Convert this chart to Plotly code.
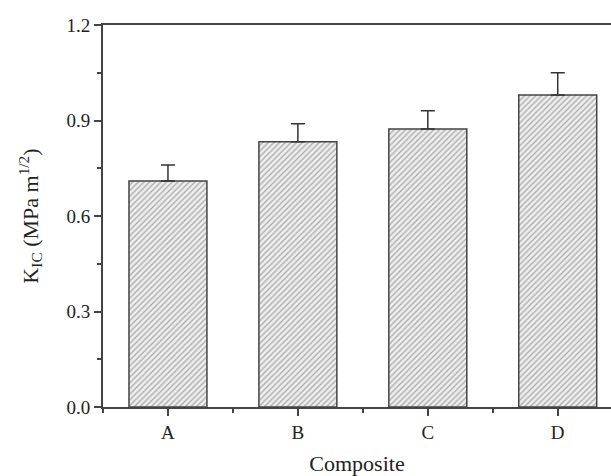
import plotly.graph_objects as go

categories = ["A", "B", "C", "D"]
kic = [0.71, 0.833, 0.873, 0.98]
err = [0.05, 0.057, 0.058, 0.07]

xpos = list(range(len(categories)))

fig = go.Figure()
fig.add_trace(go.Bar(
    x=xpos, y=kic, width=0.6,
    marker=dict(color="white",
                line=dict(color="#444444", width=1.5),
                pattern=dict(shape="/", fgcolor="#6a6a6a", bgcolor="#efefef",
                             size=4, solidity=0.35)),
    error_y=dict(type="data", symmetric=False, array=err,
                 arrayminus=[0]*len(err), color="#333333", thickness=1.5, width=7),
    showlegend=False,
))

font = "Liberation Serif, Times New Roman, serif"
fig.update_layout(
    width=611, height=476,
    margin=dict(l=103, r=0, t=25, b=69),
    plot_bgcolor="white", paper_bgcolor="white",
    font=dict(family=font, size=19, color="#222222"),
    bargap=0.4,
)
fig.update_xaxes(
    range=[-0.5, 3.41], tickvals=xpos, ticktext=categories,
    showgrid=False, zeroline=False,
    showline=True, linecolor="#444444", linewidth=2, mirror=True,
    ticks="outside", ticklen=7, tickwidth=1.5, tickcolor="#444444",
    minor=dict(tick0=0.5, dtick=1, ticks="outside", ticklen=4, tickwidth=1.5, tickcolor="#444444"),
    title=dict(text="Composite", font=dict(size=22, family=font), standoff=14),
    tickfont=dict(size=19, family=font),
)
fig.update_yaxes(
    range=[0, 1.2], tickvals=[0, 0.3, 0.6, 0.9, 1.2], tickformat=".1f",
    showgrid=False, zeroline=False,
    showline=True, linecolor="#444444", linewidth=2,
    ticks="outside", ticklen=7, tickwidth=1.5, tickcolor="#444444",
    minor=dict(tick0=0.15, dtick=0.3, ticks="outside", ticklen=4, tickwidth=1.5, tickcolor="#444444"),
    title=dict(text="K<sub>IC</sub> (MPa m<sup>1/2</sup>)", font=dict(size=22, family=font), standoff=22),
    tickfont=dict(size=19, family=font),
)

fig.write_html("out.html")
